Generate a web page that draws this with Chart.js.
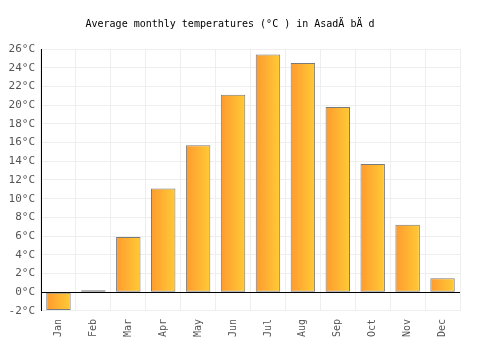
<!DOCTYPE html>
<html>
<head>
<meta charset="utf-8">
<script src="https://cdn.jsdelivr.net/npm/chart.js@4/dist/chart.umd.min.js"></script>
<style>
  html, body { margin: 0; padding: 0; background: #fff; }
  #wrap { width: 500px; height: 350px; }
</style>
</head>
<body>
<div id="wrap"><canvas id="myChart"></canvas></div>
<script>
const months = ['Jan', 'Feb', 'Mar', 'Apr', 'May', 'Jun', 'Jul', 'Aug', 'Sep', 'Oct', 'Nov', 'Dec'];
const temps = [-1.9, 0.2, 5.9, 11.1, 15.7, 21.1, 25.4, 24.5, 19.8, 13.7, 7.2, 1.5];
const yMin = -2;
const yMax = 26;
const yStep = 2;

const barPct = 0.7;

function barGradient(context) {
    const chart = context.chart;
    const xs = chart.scales && chart.scales.x;
    if (!chart.chartArea || !xs) return '#ffb030';
    const cx = xs.getPixelForValue(context.dataIndex);
    const w = (xs.width / months.length) * barPct;
    const g = chart.ctx.createLinearGradient(cx - w / 2, 0, cx + w / 2, 0);
    g.addColorStop(0, '#ff9a2e');
    g.addColorStop(1, '#ffcb36');
    return g;
}

const ctx = document.getElementById('myChart');

new Chart(ctx, {
    type: 'bar',
    data: {
        labels: months,
        datasets: [{
            data: temps,
            backgroundColor: barGradient,
            borderColor: '#7a7a7a',
            borderWidth: 1,
            borderSkipped: false,
            barPercentage: barPct,
            categoryPercentage: 1.0
        }]
    },
    options: {
        responsive: true,
        maintainAspectRatio: false,
        animation: false,
        layout: { padding: { left: 0, right: 40, top: 8, bottom: 5 } },
        plugins: {
            legend: { display: false },
            tooltip: { enabled: false },
            title: {
                display: true,
                text: 'Average monthly temperatures (°C ) in AsadÄ bÄ d',
                color: '#000',
                font: { family: 'DejaVu Sans Mono', size: 10, weight: 'normal' },
                padding: { top: 10, bottom: 19 }
            }
        },
        scales: {
            x: {
                grid: { color: '#eeeeee', offset: true, drawTicks: false },
                border: { color: '#eeeeee' },
                ticks: {
                    color: '#555',
                    padding: 8,
                    font: { family: 'DejaVu Sans Mono', size: 10 },
                    minRotation: 90,
                    maxRotation: 90
                }
            },
            y: {
                min: yMin,
                max: yMax,
                afterFit: s => { s.width = 41; },
                grid: {
                    drawTicks: false,
                    color: c => c.tick && c.tick.value === 0 ? '#000' : '#eeeeee'
                },
                border: { color: '#000' },
                ticks: {
                    stepSize: yStep,
                    padding: 6,
                    color: '#555',
                    font: { family: 'DejaVu Sans Mono', size: 11 },
                    callback: v => v + '°C'
                }
            }
        }
    }
});
</script>
</body>
</html>
